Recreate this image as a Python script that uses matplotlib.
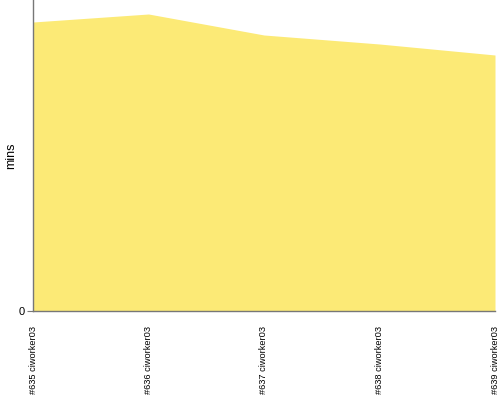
import matplotlib
matplotlib.use("Agg")
import matplotlib.pyplot as plt

builds = ["#635 ciworker03", "#636 ciworker03", "#637 ciworker03", "#638 ciworker03", "#639 ciworker03"]
durations = [28.9, 29.7, 27.6, 26.7, 25.6]

plt.rcParams['font.family'] = ['Liberation Sans', 'DejaVu Sans']
fig = plt.figure(figsize=(5, 4), dpi=100)
ax = fig.add_axes([0.066, 0.2225, 0.924, 0.7775])
x = list(range(len(builds)))
ax.fill_between(x, durations, 0, color="#FCEA76", linewidth=0)
ax.set_xlim(0, len(builds) - 1)
ax.set_ylim(0, 31.1)
ax.set_yticks([0])
ax.set_yticklabels(["0"], fontsize=8)
ax.set_xticks(x)
ax.set_xticklabels(builds, rotation=90, fontsize=6.7, va="top")
ax.tick_params(axis="x", length=0, pad=11)
ax.tick_params(axis="y", length=4, color="#777777", pad=2)
ax.set_ylabel("mins", fontsize=9, labelpad=2)
ax.yaxis.set_label_coords(-0.035, 0.5)
for s in ["top", "right"]:
    ax.spines[s].set_visible(False)
for s in ["left", "bottom"]:
    ax.spines[s].set_color("#777777")
    ax.spines[s].set_linewidth(1)
fig.savefig("out.png", dpi=100)
